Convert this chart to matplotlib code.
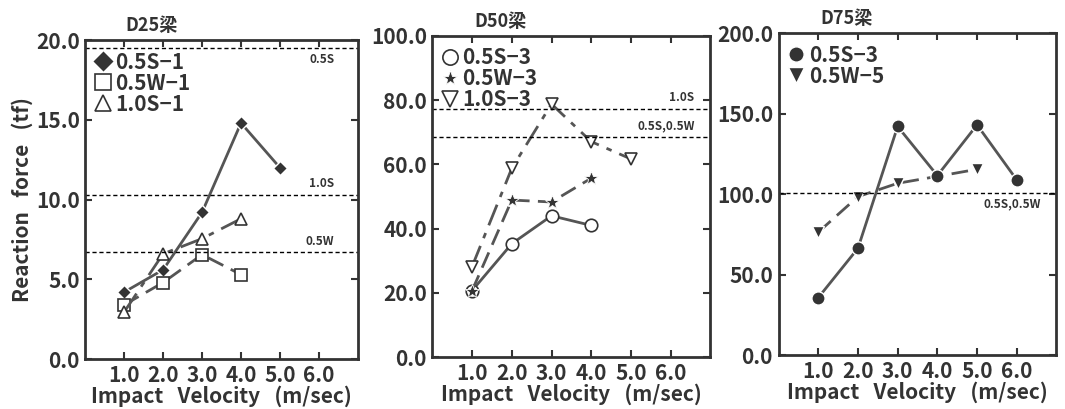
import numpy as np
import matplotlib.pyplot as plt

plt.rcParams['font.family'] = ['Noto Sans CJK JP', 'DejaVu Sans']
plt.rcParams['font.weight'] = 'bold'

# D25 beam
d25_x_a = [1, 2, 3, 4, 5]
d25_y_a = [4.2, 5.6, 9.2, 14.8, 12.0]
d25_x_b = [1, 2, 3, 4]
d25_y_b = [3.4, 4.8, 6.55, 5.3]
d25_x_c = [1, 2, 3, 4]
d25_y_c = [2.95, 6.6, 7.55, 8.8]
d25_ref = [19.5, 10.3, 6.7]
d25_ref_labels = ['0.5S', '1.0S', '0.5W']

# D50 beam
d50_x_a = [1, 2, 3, 4]
d50_y_a = [20.7, 35.3, 44.0, 41.0]
d50_x_b = [1, 2, 3, 4]
d50_y_b = [20.7, 48.9, 48.3, 55.7]
d50_x_c = [1, 2, 3, 4, 5]
d50_y_c = [28.2, 58.8, 78.8, 67.1, 61.7]
d50_ref = [77.4, 68.4]
d50_ref_labels = ['1.0S', '0.5S,0.5W']

# D75 beam
d75_x_a = [1, 2, 3, 4, 5, 6]
d75_y_a = [35.6, 66.3, 142.0, 111.5, 143.0, 108.8]
d75_x_b = [1, 2, 3, 4, 5]
d75_y_b = [76.3, 98.4, 106.7, 111.0, 115.4]
d75_ref = [100.9]
d75_ref_labels = ['0.5S,0.5W']

xticks = [1, 2, 3, 4, 5, 6]
dark = '#333333'
line_c = '#555555'
fs = 15

fig = plt.figure(figsize=(10.65, 4.09), dpi=100)
ax1 = fig.add_axes([0.080, 0.122, 0.256, 0.780])
ax2 = fig.add_axes([0.406, 0.127, 0.261, 0.785])
ax3 = fig.add_axes([0.731, 0.132, 0.261, 0.787])


def style_axis(ax, ymax, ystep, title):
    ax.set_xlim(0, 7)
    ax.set_ylim(0, ymax)
    ax.set_xticks(xticks)
    ax.set_xticklabels([f'{v:.1f}' for v in xticks])
    yt = np.arange(0, ymax + ystep / 2, ystep)
    ax.set_yticks(yt)
    ax.set_yticklabels([f'{v:.1f}' for v in yt])
    ax.tick_params(direction='in', top=True, right=True, length=5, width=1.5,
                   labelsize=fs, colors=dark, pad=4)
    for lab in ax.get_xticklabels() + ax.get_yticklabels():
        lab.set_fontweight('bold')
    for s in ax.spines.values():
        s.set_linewidth(2)
        s.set_color(dark)
    ax.set_xlabel('Impact   Velocity   (m/sec)', fontsize=fs, color=dark,
                  fontweight='bold', labelpad=0)
    ax.text(0.245, 1.045, title, transform=ax.transAxes, ha='center', va='center',
            fontsize=13, fontweight='bold', color=dark)


def ref_lines(ax, vals, labels, offsets, xpos):
    for v, lab, off, xp in zip(vals, labels, offsets, xpos):
        ax.axhline(v, color='black', lw=1, ls=(0, (3, 2)))
        ax.annotate(lab, (xp, v), xytext=(0, off), textcoords='offset points',
                    ha='right', va='center', fontsize=8.5, fontweight='bold', color=dark)


# D25
ax1.plot(d25_x_a, d25_y_a, color=line_c, lw=2, ls='-', marker='D', ms=7,
         mfc=dark, mec='white', mew=1.0, label='0.5S−1')
ax1.plot(d25_x_b, d25_y_b, color=line_c, lw=2, ls=(0, (6, 3)), marker='s', ms=8.5,
         mfc='white', mec=dark, mew=1.2, label='0.5W−1')
ax1.plot(d25_x_c, d25_y_c, color=line_c, lw=2, ls=(0, (8, 3, 2, 3)), marker='^', ms=8.5,
         mfc='white', mec=dark, mew=1.2, label='1.0S−1')
ref_lines(ax1, d25_ref, d25_ref_labels, [-8, 8, 8], [6.4, 6.4, 6.4])
style_axis(ax1, 20, 5, 'D25梁')
ax1.set_ylabel('Reaction   force   (tf)', fontsize=fs, color=dark, fontweight='bold',
               labelpad=2)

# D50
ax2.plot(d50_x_a, d50_y_a, color=line_c, lw=2, ls='-', marker='o', ms=9,
         mfc='white', mec=dark, mew=1.2, label='0.5S−3')
ax2.plot(d50_x_b, d50_y_b, color=line_c, lw=2, ls=(0, (6, 3)), marker='*', ms=10,
         mfc=dark, mec='white', mew=0.6, label='0.5W−3')
ax2.plot(d50_x_c, d50_y_c, color=line_c, lw=2, ls=(0, (8, 3, 2, 3)), marker='v', ms=8.5,
         mfc='white', mec=dark, mew=1.2, label='1.0S−3')
ref_lines(ax2, d50_ref, d50_ref_labels, [8, 8], [6.6, 6.6])
style_axis(ax2, 100, 20, 'D50梁')

# D75
ax3.plot(d75_x_a, d75_y_a, color=line_c, lw=2, ls='-', marker='o', ms=9.5,
         mfc=dark, mec='white', mew=1.0, label='0.5S−3', zorder=3)
ax3.plot(d75_x_b, d75_y_b, color=line_c, lw=2, ls=(0, (6, 3)), marker='v', ms=8.5,
         mfc=dark, mec='white', mew=1.0, label='0.5W−5', zorder=2)
ref_lines(ax3, d75_ref, d75_ref_labels, [-8], [6.6])
style_axis(ax3, 200, 50, 'D75梁')

for ax in (ax1, ax2, ax3):
    leg = ax.legend(loc='upper left', frameon=False, handlelength=0.6, handletextpad=0.3,
                    borderaxespad=0.15, labelspacing=0.0,
                    prop={'weight': 'bold', 'size': fs})
    for h in leg.legend_handles:
        h.set_linestyle('none')
        h.set_markersize(11)
    for t in leg.get_texts():
        t.set_color(dark)

fig.savefig('out.png', dpi=100)
